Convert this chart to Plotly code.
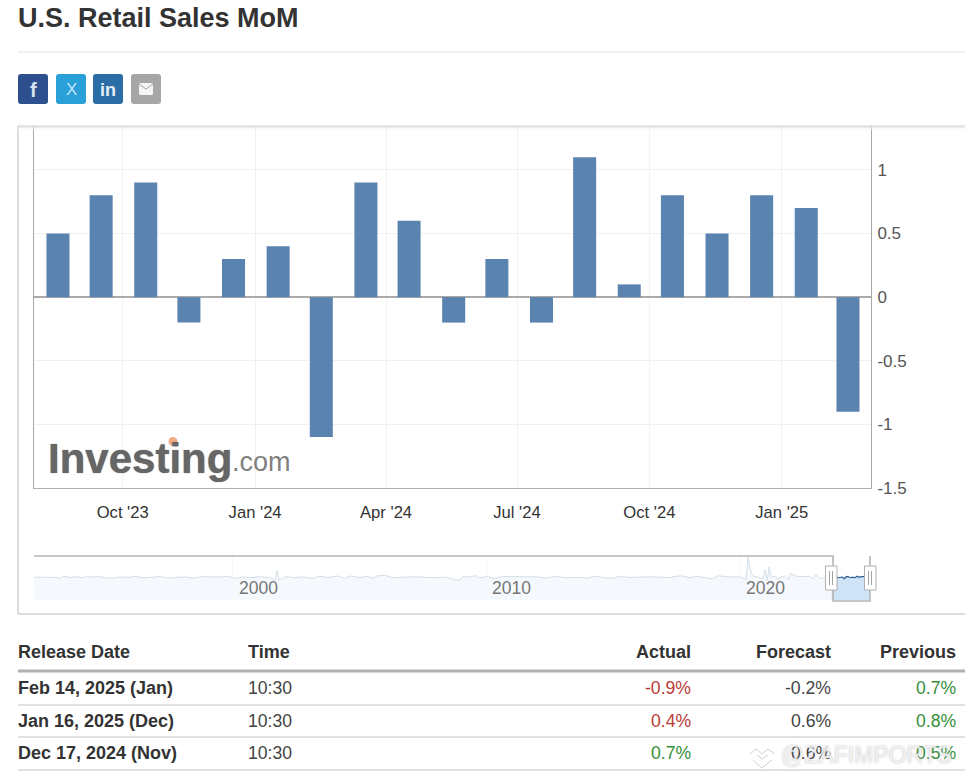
import plotly.graph_objects as go

W, H = 965, 776

# monthly prints shown in the main panel (dates, value in %)
release_dates = [
    "2023-08-17", "2023-09-16", "2023-10-17", "2023-11-16", "2023-12-17",
    "2024-01-17", "2024-02-16", "2024-03-18", "2024-04-17", "2024-05-18",
    "2024-06-17", "2024-07-18", "2024-08-17", "2024-09-17", "2024-10-17",
    "2024-11-17", "2024-12-18", "2025-01-18", "2025-02-16",
]
mom_values = [0.5, 0.8, 0.9, -0.2, 0.3, 0.4, -1.1, 0.9, 0.6, -0.2,
              0.3, -0.2, 1.1, 0.1, 0.8, 0.5, 0.8, 0.7, -0.9]

x_tick_dates = ["2023-10-01", "2024-01-01", "2024-04-01", "2024-07-01", "2024-10-01", "2025-01-01"]
x_tick_labels = ["Oct '23", "Jan '24", "Apr '24", "Jul '24", "Oct '24", "Jan '25"]
y_tick_values = [-1.5, -1, -0.5, 0, 0.5, 1]
y_tick_labels = ["-1.5", "-1", "-0.5", "0", "0.5", "1"]

# navigator history, read roughly off the small strip
nav_dates = [
    "1992-03", "1992-09", "1993-02", "1993-03", "1993-05", "1993-08", "1993-12", "1994-02",
    "1994-04", "1994-06", "1994-10", "1995-01", "1995-04", "1995-08", "1995-12", "1996-03",
    "1996-07", "1996-11", "1997-03", "1997-06", "1997-10", "1998-02", "1998-07", "1998-11",
    "1999-03", "1999-07", "1999-11", "2000-02", "2000-06", "2000-10", "2001-02", "2001-06",
    "2001-09", "2001-10", "2001-11", "2002-02", "2002-06", "2002-10", "2003-03", "2003-06",
    "2003-10", "2004-03", "2004-06", "2004-09", "2005-01", "2005-04", "2005-08", "2005-09",
    "2006-01", "2006-05", "2006-09", "2007-03", "2007-08", "2008-01", "2008-05", "2008-09",
    "2008-11", "2009-01", "2009-02", "2009-05", "2009-08", "2009-10", "2010-01", "2010-05",
    "2010-09", "2011-03", "2011-07", "2012-01", "2012-06", "2012-09", "2013-03", "2013-09",
    "2014-01", "2014-04", "2014-09", "2015-01", "2015-04", "2015-09", "2016-03", "2016-09",
    "2017-03", "2017-09", "2018-01", "2018-05", "2018-12", "2019-03", "2019-08", "2020-01",
    "2020-03", "2020-04", "2020-05", "2020-06", "2020-07", "2020-10", "2020-12", "2021-01",
    "2021-02", "2021-03", "2021-04", "2021-06", "2021-07", "2021-10", "2021-12", "2022-01",
    "2022-04", "2022-06", "2022-10", "2022-12", "2023-01", "2023-03", "2023-07",
]
nav_values = [
    0.2, 0.4, 0.1, -1.0, 1.0, 0.0, 0.6, -0.3,
    1.2, 0.2, 0.8, -0.3, -0.6, 0.5, 0.1, 1.0,
    -0.4, 0.3, 0.9, -0.5, 0.2, 0.4, -0.4, 0.8,
    0.5, 0.3, 1.1, -0.9, 0.4, -0.2, 0.7, -0.1,
    -2.0, 6.0, -2.5, 0.8, -0.2, 0.5, -0.8, 1.0,
    0.0, 1.3, -0.8, 1.4, -0.2, 1.2, -0.6, 1.3,
    2.0, -0.4, 0.2, 0.6, 0.2, -0.3, 0.3, -1.0,
    -2.5, -2.0, 1.0, 0.3, 1.6, -0.3, 0.8, -0.9,
    0.9, 0.8, 0.2, 0.5, -0.5, 1.0, -0.2, 0.1,
    -0.6, 1.2, -0.2, -0.8, 0.9, 0.0, 0.4, 0.5,
    -0.1, 1.5, -0.1, 1.0, -1.2, 1.5, 0.5, 0.6,
    -1.0, -1.5, 18.0, 7.5, 1.5, 0.0, -1.0, 7.0,
    -2.5, 9.5, 0.5, 1.0, -1.5, 1.5, -1.5, 3.5,
    1.0, 0.8, 1.0, -1.0, 2.5, -0.9, 0.7,
]
nav_year_dates = ["2000-01-01", "2010-01-01", "2020-01-01"]
nav_year_labels = ["2000", "2010", "2020"]

# release table
table_headers = ["Release Date", "Time", "Actual", "Forecast", "Previous"]
release_labels = ["Feb 14, 2025 (Jan)", "Jan 16, 2025 (Dec)", "Dec 17, 2024 (Nov)"]
release_times = ["10:30", "10:30", "10:30"]
actual_texts = ["-0.9%", "0.4%", "0.7%"]
forecast_texts = ["-0.2%", "0.6%", "0.6%"]
previous_texts = ["0.7%", "0.8%", "0.5%"]
actual_colors = ["#bb3a36", "#bb3a36", "#35903a"]
previous_colors = ["#35903a", "#35903a", "#35903a"]

FONT = "Liberation Sans, Arial, sans-serif"
NAV_FLOOR, NAV_TOP = -19.8, 18.9


def px(x):
    return x / W


def py(y):
    return 1 - y / H


def label(x, y, text, size=16, color="#333", anchor="left", bold=False, **kw):
    return dict(
        x=px(x), y=py(y), xref="paper", yref="paper", text=f"<b>{text}</b>" if bold else text,
        showarrow=False, xanchor=anchor, yanchor="middle", borderpad=0, borderwidth=0,
        font=dict(family=kw.pop("family", FONT), size=size, color=color, **kw),
    )


def line(x0, y0, x1, y1, color="#bdbdbd", width=1):
    return dict(type="line", xref="paper", yref="paper", x0=px(x0), y0=py(y0), x1=px(x1), y1=py(y1),
                line=dict(color=color, width=width))


def rect(x0, y0, x1, y1, fill, border="rgba(0,0,0,0)", width=0):
    return dict(type="rect", xref="paper", yref="paper", x0=px(x0), y0=py(y0), x1=px(x1), y1=py(y1),
                fillcolor=fill, line=dict(color=border, width=width))


def poly(points, color="#bdbdbd", width=1, fill=None, closed=False):
    path = "M" + " L".join(f"{px(a):.5f},{py(b):.5f}" for a, b in points) + (" Z" if closed else "")
    return dict(type="path", xref="paper", yref="paper", path=path, fillcolor=fill,
                line=dict(color=color, width=width))


def rounded(x0, y0, x1, y1, r, fill):
    path = (
        f"M{px(x0 + r)},{py(y0)} L{px(x1 - r)},{py(y0)} Q{px(x1)},{py(y0)} {px(x1)},{py(y0 + r)} "
        f"L{px(x1)},{py(y1 - r)} Q{px(x1)},{py(y1)} {px(x1 - r)},{py(y1)} "
        f"L{px(x0 + r)},{py(y1)} Q{px(x0)},{py(y1)} {px(x0)},{py(y1 - r)} "
        f"L{px(x0)},{py(y0 + r)} Q{px(x0)},{py(y0)} {px(x0 + r)},{py(y0)} Z"
    )
    return dict(type="path", xref="paper", yref="paper", path=path, fillcolor=fill, line=dict(width=0))


fig = go.Figure()

fig.add_trace(go.Bar(
    x=release_dates, y=mom_values, width=16 * 86400000,
    marker=dict(color="#5b83b0", line=dict(width=0)), xaxis="x", yaxis="y",
))

# navigator: pale history, then the selected stretch in stronger colours
fig.add_trace(go.Scatter(x=[nav_dates[0], release_dates[0]], y=[NAV_FLOOR, NAV_FLOOR], mode="lines",
                         line=dict(width=0), xaxis="x2", yaxis="y2"))
fig.add_trace(go.Scatter(x=nav_dates + release_dates[:1], y=nav_values + mom_values[:1], mode="lines",
                         line=dict(color="#d3dfe6", width=1), fill="tonexty", fillcolor="#f5f9fd",
                         xaxis="x2", yaxis="y2"))
fig.add_trace(go.Scatter(x=[release_dates[0], release_dates[-1]], y=[NAV_FLOOR, NAV_FLOOR], mode="lines",
                         line=dict(width=0), xaxis="x2", yaxis="y2"))
fig.add_trace(go.Scatter(x=release_dates, y=mom_values, mode="lines",
                         line=dict(color="#2a5b96", width=1.2), fill="tonexty", fillcolor="#cfe3f7",
                         xaxis="x2", yaxis="y2"))

shapes = [
    # page furniture
    line(18, 52, 965, 52, "#e2e2e2"),
    line(18, 126, 18, 614, "#bbbbbb"),
    line(18, 614, 965, 614, "#bbbbbb"),
    line(18, 126, 965, 126, "#cccccc"),
    line(18, 127.5, 965, 127.5, "#e8e8e8"),
    line(18, 129, 965, 129, "#f6f6f6"),
    # share buttons
    rounded(18, 74, 48, 104, 3, "#2d4f8e"),
    rounded(56, 74, 86, 104, 3, "#2a9fd8"),
    rounded(93, 74, 123, 104, 3, "#2b6ea6"),
    rounded(131, 74, 161, 104, 3, "#a6a6a6"),
    rounded(139, 83, 153, 95, 1.5, "#f4f4f4"),
    poly([(139, 84), (146, 89), (153, 84)], "#a6a6a6", 1),
    # logo dot
    dict(type="circle", xref="paper", yref="paper", x0=px(168.5), y0=py(437), x1=px(177.5), y1=py(446),
         fillcolor="#f0ac84", line=dict(width=0)),
    # navigator outline and grips
    poly([(34, 556), (833, 556), (833, 601), (870, 601), (870, 556)], "#b5b5b5", 1.6),
    rect(825.5, 566, 837, 590, "#ffffff", "#b0b0b0", 1),
    line(829.5, 571, 829.5, 585, "#a0a0a0"),
    line(832.5, 571, 832.5, 585, "#a0a0a0"),
    rect(864.5, 566, 876, 590, "#ffffff", "#b0b0b0", 1),
    line(868.5, 571, 868.5, 585, "#a0a0a0"),
    line(871.5, 571, 871.5, 585, "#a0a0a0"),
    # table rules
    line(18, 671, 965, 671, "#b0b0b0", 3),
    line(18, 705, 965, 705, "#c2c2c2"),
    line(18, 737, 965, 737, "#c2c2c2"),
    line(18, 770, 965, 770, "#c2c2c2"),
    # watermark chevrons
    poly([(750, 754), (756, 749), (762, 754), (768, 749), (775, 754)], "#cfcfcf", 1),
    poly([(757, 755), (762, 759), (768, 755)], "#cfcfcf", 1),
    poly([(753, 760), (762, 768), (772, 760)], "#cfcfcf", 1),
]

annotations = [
    label(18, 18, "U.S. Retail Sales MoM", size=27, bold=True, color="#333"),
    label(33, 90, "f", size=20, color="#d7e2f2", anchor="center", bold=True),
    label(71, 89, "X", size=17, color="#bfe6f8", anchor="center"),
    label(108, 90, "in", size=18, color="#e3eef7", anchor="center", bold=True),
    label(48, 458, "Investing", size=42, color="#666666", bold=True, shadow="0 0 1px #666666"),
    label(232, 462, ".com", size=27, color="#808080"),
]

for d, t in zip(nav_year_dates, nav_year_labels):
    annotations.append(dict(x=d, y=py(588), xref="x2", yref="paper", text=t, showarrow=False,
                            xanchor="left", yanchor="middle", xshift=4,
                            font=dict(family=FONT, size=17.5, color="#777")))

header_x = [18, 248, 691, 831, 956]
header_anchor = ["left", "left", "right", "right", "right"]
for text, x, anchor in zip(table_headers, header_x, header_anchor):
    annotations.append(label(x, 652, text, size=18, anchor=anchor, bold=True))

row_y = [688, 721, 753]
for i, y in enumerate(row_y):
    annotations.append(label(18, y, release_labels[i], size=18, bold=True))
    annotations.append(label(248, y, release_times[i], size=17.6, color="#444"))
    annotations.append(label(691, y, actual_texts[i], size=17.6, color=actual_colors[i], anchor="right"))
    annotations.append(label(831, y, forecast_texts[i], size=17.6, color="#444", anchor="right"))
    annotations.append(label(956, y, previous_texts[i], size=17.6, color=previous_colors[i], anchor="right"))

annotations.append(label(781, 755, "@ZAFIMPORTS", size=23, color="rgba(255,255,255,0.75)",
                         shadow="0 0 2px #9a9a9a"))

fig.update_layout(
    width=W, height=H, margin=dict(l=0, r=0, t=0, b=0), autosize=False,
    paper_bgcolor="#ffffff", plot_bgcolor="#ffffff", showlegend=False, font=dict(family=FONT),
    shapes=shapes, annotations=annotations,
    xaxis=dict(
        type="date", domain=[px(33.5), px(871)], range=["2023-07-31", "2025-03-04"], anchor="y",
        tickmode="array", tickvals=x_tick_dates, ticktext=x_tick_labels,
        tickfont=dict(size=16.6, color="#333"), ticks="", ticklabelstandoff=9, automargin=False,
        showgrid=True, gridcolor="#f2f2f2", showline=True, linecolor="#b0b0b0", linewidth=1,
        zeroline=False, fixedrange=True,
    ),
    yaxis=dict(
        domain=[py(488), py(126)], range=[-1.5, 1.345], anchor="x", side="right",
        tickmode="array", tickvals=y_tick_values, ticktext=y_tick_labels,
        tickfont=dict(size=17, color="#555"), ticks="", ticklabelstandoff=2, automargin=False,
        showgrid=True, gridcolor="#f0f0f0", zeroline=True, zerolinecolor="#aaaaaa", zerolinewidth=1.5,
        showline=True, mirror=True, linecolor="#a8a8a8", linewidth=1, fixedrange=True,
    ),
    xaxis2=dict(
        type="date", domain=[px(34), px(871)], range=["1992-03-01", "2025-03-06"], anchor="y2",
        showticklabels=False, ticks="", tickmode="array", tickvals=nav_year_dates, automargin=False,
        showgrid=True, gridcolor="#f6f6f6", zeroline=False, showline=False, fixedrange=True,
    ),
    yaxis2=dict(
        domain=[py(600), py(556)], range=[NAV_FLOOR, NAV_TOP], anchor="x2", automargin=False,
        showticklabels=False, showgrid=False, zeroline=False, showline=False, ticks="", fixedrange=True,
    ),
)

fig.write_html("out.html", config={"displayModeBar": False},
               post_script="document.body.style.margin='0';document.body.style.overflow='hidden';")
